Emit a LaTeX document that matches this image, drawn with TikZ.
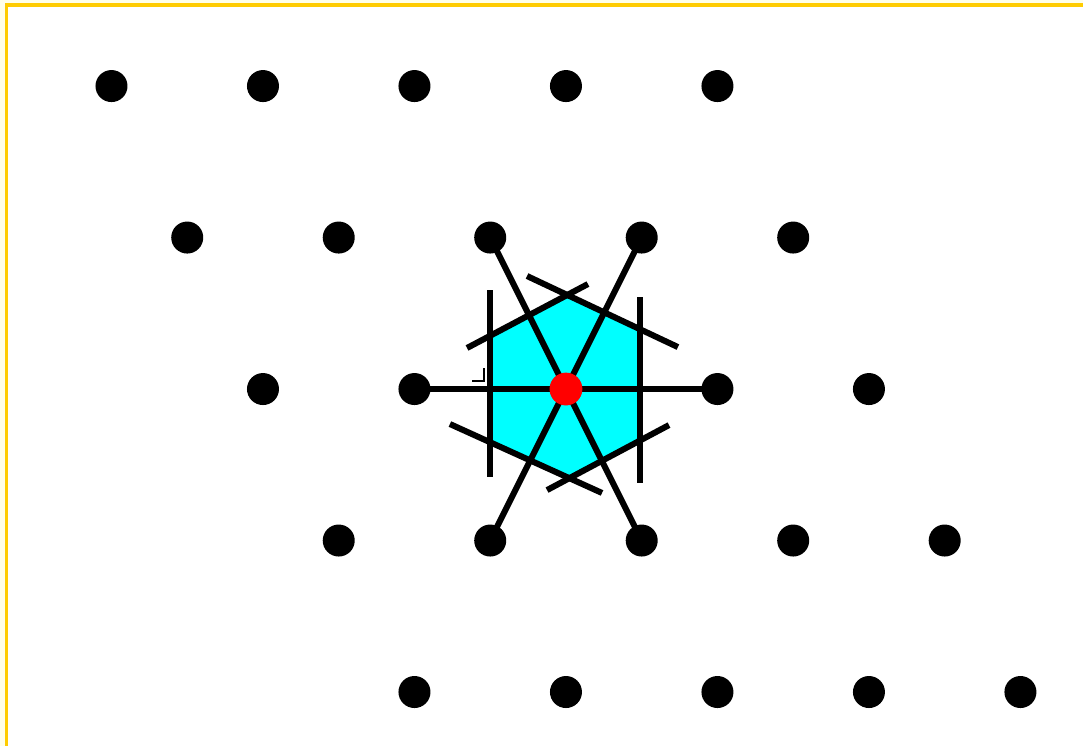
\documentclass[tikz,border=0pt]{standalone}
\usepackage{xcolor}
\usepackage{tikz}
\usetikzlibrary{positioning}

\definecolor{framegold}{HTML}{FFCC00}
\definecolor{paleyellow}{HTML}{FFFFE8}
\definecolor{cellcyan}{HTML}{00FFFF}

\begin{document}
\begin{tikzpicture}[x=1.5cm, y=1.5cm,
    site/.style={circle, fill=black, inner sep=0pt, minimum size=0.317cm},
    origin/.style={circle, fill=red, inner sep=0pt, minimum size=0.325cm},
    spoke/.style={draw, line width=1.7pt},
    bisector/.style={draw, line width=1.7pt},
    cell/.style={fill=cellcyan},
    anglemark/.style={draw, line width=0.45pt}
]
    % Canvas and frame
    \useasboundingbox (-3.736,-2.356) rectangle (3.413,2.568);
    \clip (-3.736,-2.356) rectangle (3.413,2.568);
    \fill[paleyellow] (-3.736,-2.356) rectangle (3.413,2.568);
    \filldraw[fill=white, draw=framegold, line width=1.1pt] (-3.693,2.535) rectangle (3.6,-2.6);

    % Lattice sites, one row at a time
    \foreach \r/\j in {1/2, 2/1, 3/0, 4/-1, 5/-2} {
        \foreach \k in {0,...,4} {
            \coordinate (p\r\k) at ({-2-0.5*\j+\k}, \j);
        }
    }
    \coordinate (o) at (p32);

    % Voronoi cell of the origin
    \fill[cell] (0,0.61) -- (0.49,0.385) -- (0.49,-0.345) -- (0,-0.59)
        -- (-0.5,-0.345) -- (-0.5,0.355) -- cycle;

    % Spokes to the six nearest neighbours
    \draw[spoke] (p31) -- (p33);
    \draw[spoke] (o) -- (p22);
    \draw[spoke] (o) -- (p23);
    \draw[spoke] (o) -- (p41);
    \draw[spoke] (o) -- (p42);

    % Perpendicular bisectors
    \draw[bisector] (-0.502,0.653) -- (-0.502,-0.581);
    \draw[bisector] (0.488,0.607) -- (0.488,-0.620);
    \draw[bisector] (-0.653,0.271) -- (0.145,0.693);
    \draw[bisector] (-0.257,0.746) -- (0.739,0.277);
    \draw[bisector] (-0.766,-0.231) -- (0.238,-0.686);
    \draw[bisector] (-0.125,-0.667) -- (0.680,-0.238);

    % Right angle mark
    \draw[anglemark] (-0.620,0.053) -- (-0.541,0.053) -- (-0.541,0.139);

    % Dots
    \foreach \r in {1,...,5} {
        \foreach \k in {0,...,4} {
            \node[site] (s\r\k) at (p\r\k) {};
        }
    }
    \node[origin] (centre) at (o) {};
\end{tikzpicture}
\end{document}
